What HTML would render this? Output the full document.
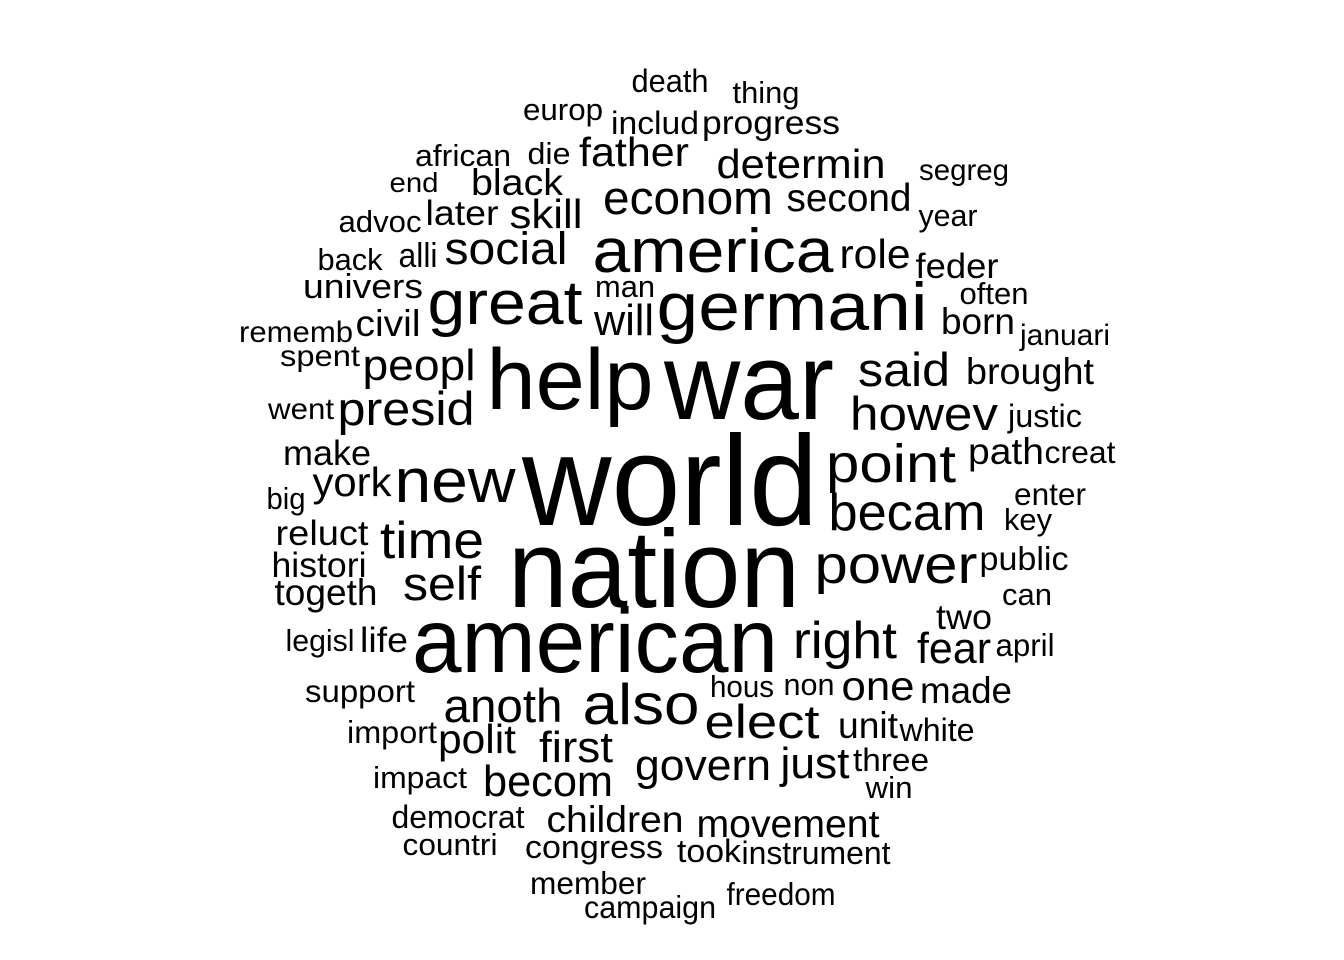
<!DOCTYPE html>
<html><head><meta charset="utf-8"><style>
html,body{margin:0;padding:0;background:#fff;}
svg{display:block;}
text{font-family:"Liberation Sans",Arial,sans-serif;fill:#000;}
</style></head><body>
<svg id="cloud" width="1344" height="960" viewBox="0 0 1344 960"></svg>
<script>
const words=["death","thing","europ","includ","progress","african","die","father","determin","segreg","end","black","econom","second","year","advoc","later","skill","america","social","role","back","alli","feder","univers","man","often","great","germani","will","rememb","civil","born","januari","spent","peopl","help","war","said","brought","went","presid","howev","justic","make","path","creat","point","world","new","york","big","enter","becam","key","reluct","time","nation","power","public","histori","self","togeth","can","two","american","right","legisl","life","fear","april","support","hous","non","one","made","anoth","also","elect","import","polit","unit","white","first","govern","just","three","impact","becom","win","democrat","children","movement","countri","congress","took","instrument","member","freedom","campaign"];
const freqs=[30,28,28,30,31,28,28,38,38,27,26,34,44,36,28,28,33,38,60,42,38,28,32,33,32,28,28,60,66,40,27,34,34,27,27,40,84,105,44,34,27,44,44,30,33,34,29,52,124,60,38,28,29,50,28,33,50,107,52,31,33,44,34,28,33,88,50,28,33,40,29,29,28,28,38,34,44,56,46,29,38,34,30,40,40,40,30,28,40,28,30,34,36,28,30,30,30,29,29,29];
// layout: [center x, baseline y, rendered width]
const layout=[[670,92,77],[766,103,67],[563,120,80],[655,134,88],[771,134,138],[463,166,96],[549,164,43],[634,166,110],[801,178,169],[964,180,90],[414,192,49],[517,195,92],[688,214,170],[849,211,125],[948,226,59],[380,232,83],[462,225,73],[546,228,73],[713,272,241],[506,264,123],[875,268,71],[350,270,65],[418,267,39],[957,278,83],[363,298,120],[625,297,60],[994,304,69],[505,324,155],[792,330,271],[624,335,60],[296,342,114],[388,336,65],[978,334,74],[1065,345,90],[320,366,80],[419,380,113],[570,409,167],[749,419,170],[904,386,92],[1030,384,128],[301,419,66],[406,425,137],[924,430,148],[1045,427,74],[327,465,88],[1006,464,76],[1080,463,71],[891,482,130],[670,525,296],[455,502,121],[352,496,79],[286,509,39],[1050,505,72],[907,530,157],[1028,530,48],[322,545,93],[432,558,104],[654,607,292],[896,583,163],[1024,570,89],[319,577,95],[442,600,78],[326,605,103],[1027,605,50],[964,629,56],[595,672,366],[845,658,104],[320,651,69],[384,652,48],[954,663,74],[1025,656,59],[360,702,110],[742,697,64],[809,695,51],[878,700,73],[966,703,92],[503,722,119],[641,724,117],[762,738,115],[392,743,90],[477,753,78],[868,738,60],[937,741,75],[576,762,74],[703,780,136],[815,778,69],[891,771,76],[420,788,94],[548,796,130],[889,798,47],[458,828,133],[615,832,137],[788,837,183],[450,855,95],[594,858,138],[709,862,64],[816,864,149],[588,894,116],[781,905,109],[650,918,132]];
const svg=document.getElementById('cloud');
const NS='http://www.w3.org/2000/svg';
for(let i=0;i<words.length;i++){
  const fs=freqs[i]<45?freqs[i]*1.08:freqs[i]*1.03;
  const t=document.createElementNS(NS,'text');
  t.setAttribute('x',layout[i][0]);
  t.setAttribute('y',layout[i][1]);
  t.setAttribute('font-size',fs.toFixed(1));
  t.setAttribute('text-anchor','middle');
  t.setAttribute('textLength',layout[i][2]);
  t.setAttribute('lengthAdjust','spacingAndGlyphs');
  t.textContent=words[i];
  
  
  svg.appendChild(t);
}
</script>
</body></html>
